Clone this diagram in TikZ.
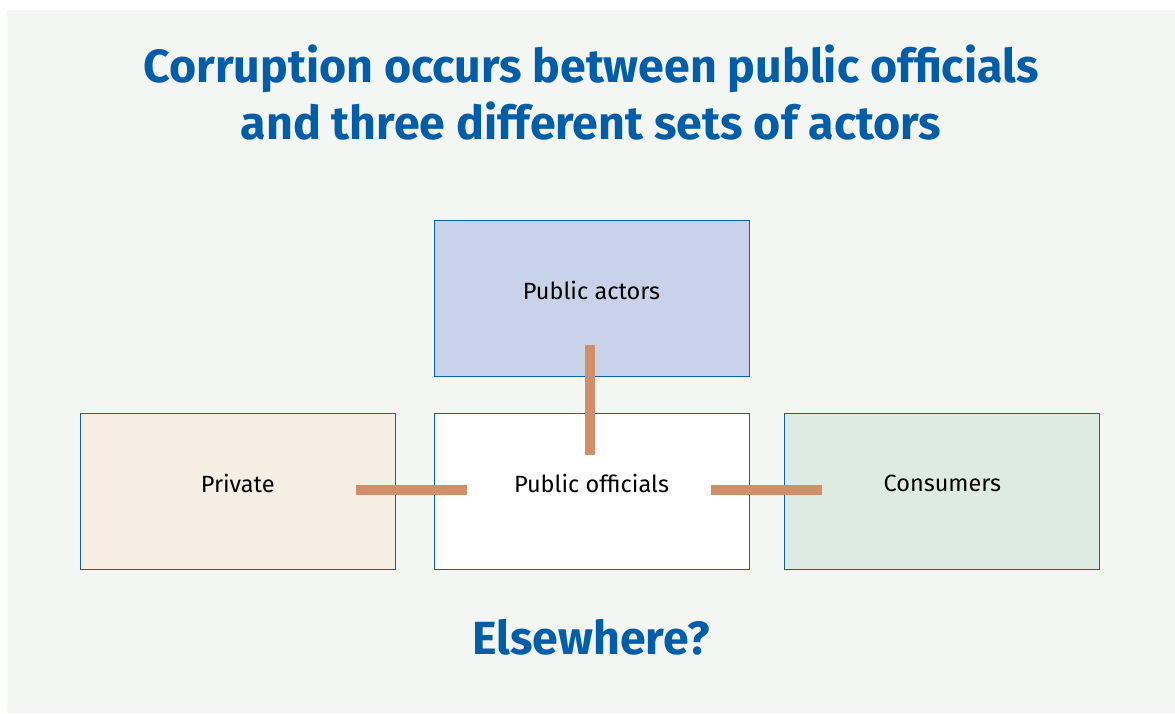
\documentclass[tikz,border=0pt]{standalone}
\usepackage{fontspec}
\setmainfont{Fira Sans}
\usetikzlibrary{positioning}
\definecolor{bgcol}{HTML}{F4F6F3}
\definecolor{titleblue}{HTML}{005DAA}
\definecolor{boxline}{HTML}{0B63B0}
\definecolor{linkcol}{HTML}{D08F68}
\definecolor{pubfill}{HTML}{C8D3E9}
\definecolor{privfill}{HTML}{F5EEE3}
\definecolor{consfill}{HTML}{DEEBE2}

\begin{document}
\begin{tikzpicture}[x=1pt,y=-1pt]
          \tikzset{Actor/.style = {draw=boxline, line width=0.8pt, minimum width=315pt,
                     minimum height=156pt, inner sep=0pt}}
          \tikzset{ActorText/.style = {font=\fontsize{23.5}{26}\selectfont, text=black}}
          \tikzset{Link/.style = {linkcol, line width=10pt}}
          \tikzset{Heading/.style = {font=\fontsize{46.5}{57}\selectfont\bfseries, text=titleblue}}

          \useasboundingbox (0,0) rectangle (1175,713);
          \fill[bgcol] (7,10) rectangle (1175,713);

          \node[Heading, align=center] (T) at (591,93) {Corruption occurs between public officials\\and three different sets of actors};

          \node[Actor, fill=white, label={[ActorText, yshift=8pt]center:Public officials}] (PO) at (591.5,491) {};
          \node[Actor, fill=pubfill, above=36pt of PO, label={[ActorText, yshift=8pt]center:Public actors}] (PA) {};
          \node[Actor, fill=privfill, left=38pt of PO, label={[ActorText, yshift=8pt]center:Private}] (PR) {};
          \node[Actor, fill=consfill, right=35pt of PO, label={[ActorText, yshift=8pt]center:Consumers}] (CO) {};

          \node[Heading] (E) at (591,637) {Elsewhere?};

          % link ends
          \coordinate (PAin) at (590,345);
          \coordinate (POtop) at (590,455);
          \coordinate (PRin) at (356,490);
          \coordinate (POleft) at (467,490);
          \coordinate (POright) at (711,490);
          \coordinate (COin) at (822,490);

          \draw[Link] (PAin) -- (POtop);
          \draw[Link] (PRin) -- (POleft);
          \draw[Link] (POright) -- (COin);
        \end{tikzpicture}
\end{document}
